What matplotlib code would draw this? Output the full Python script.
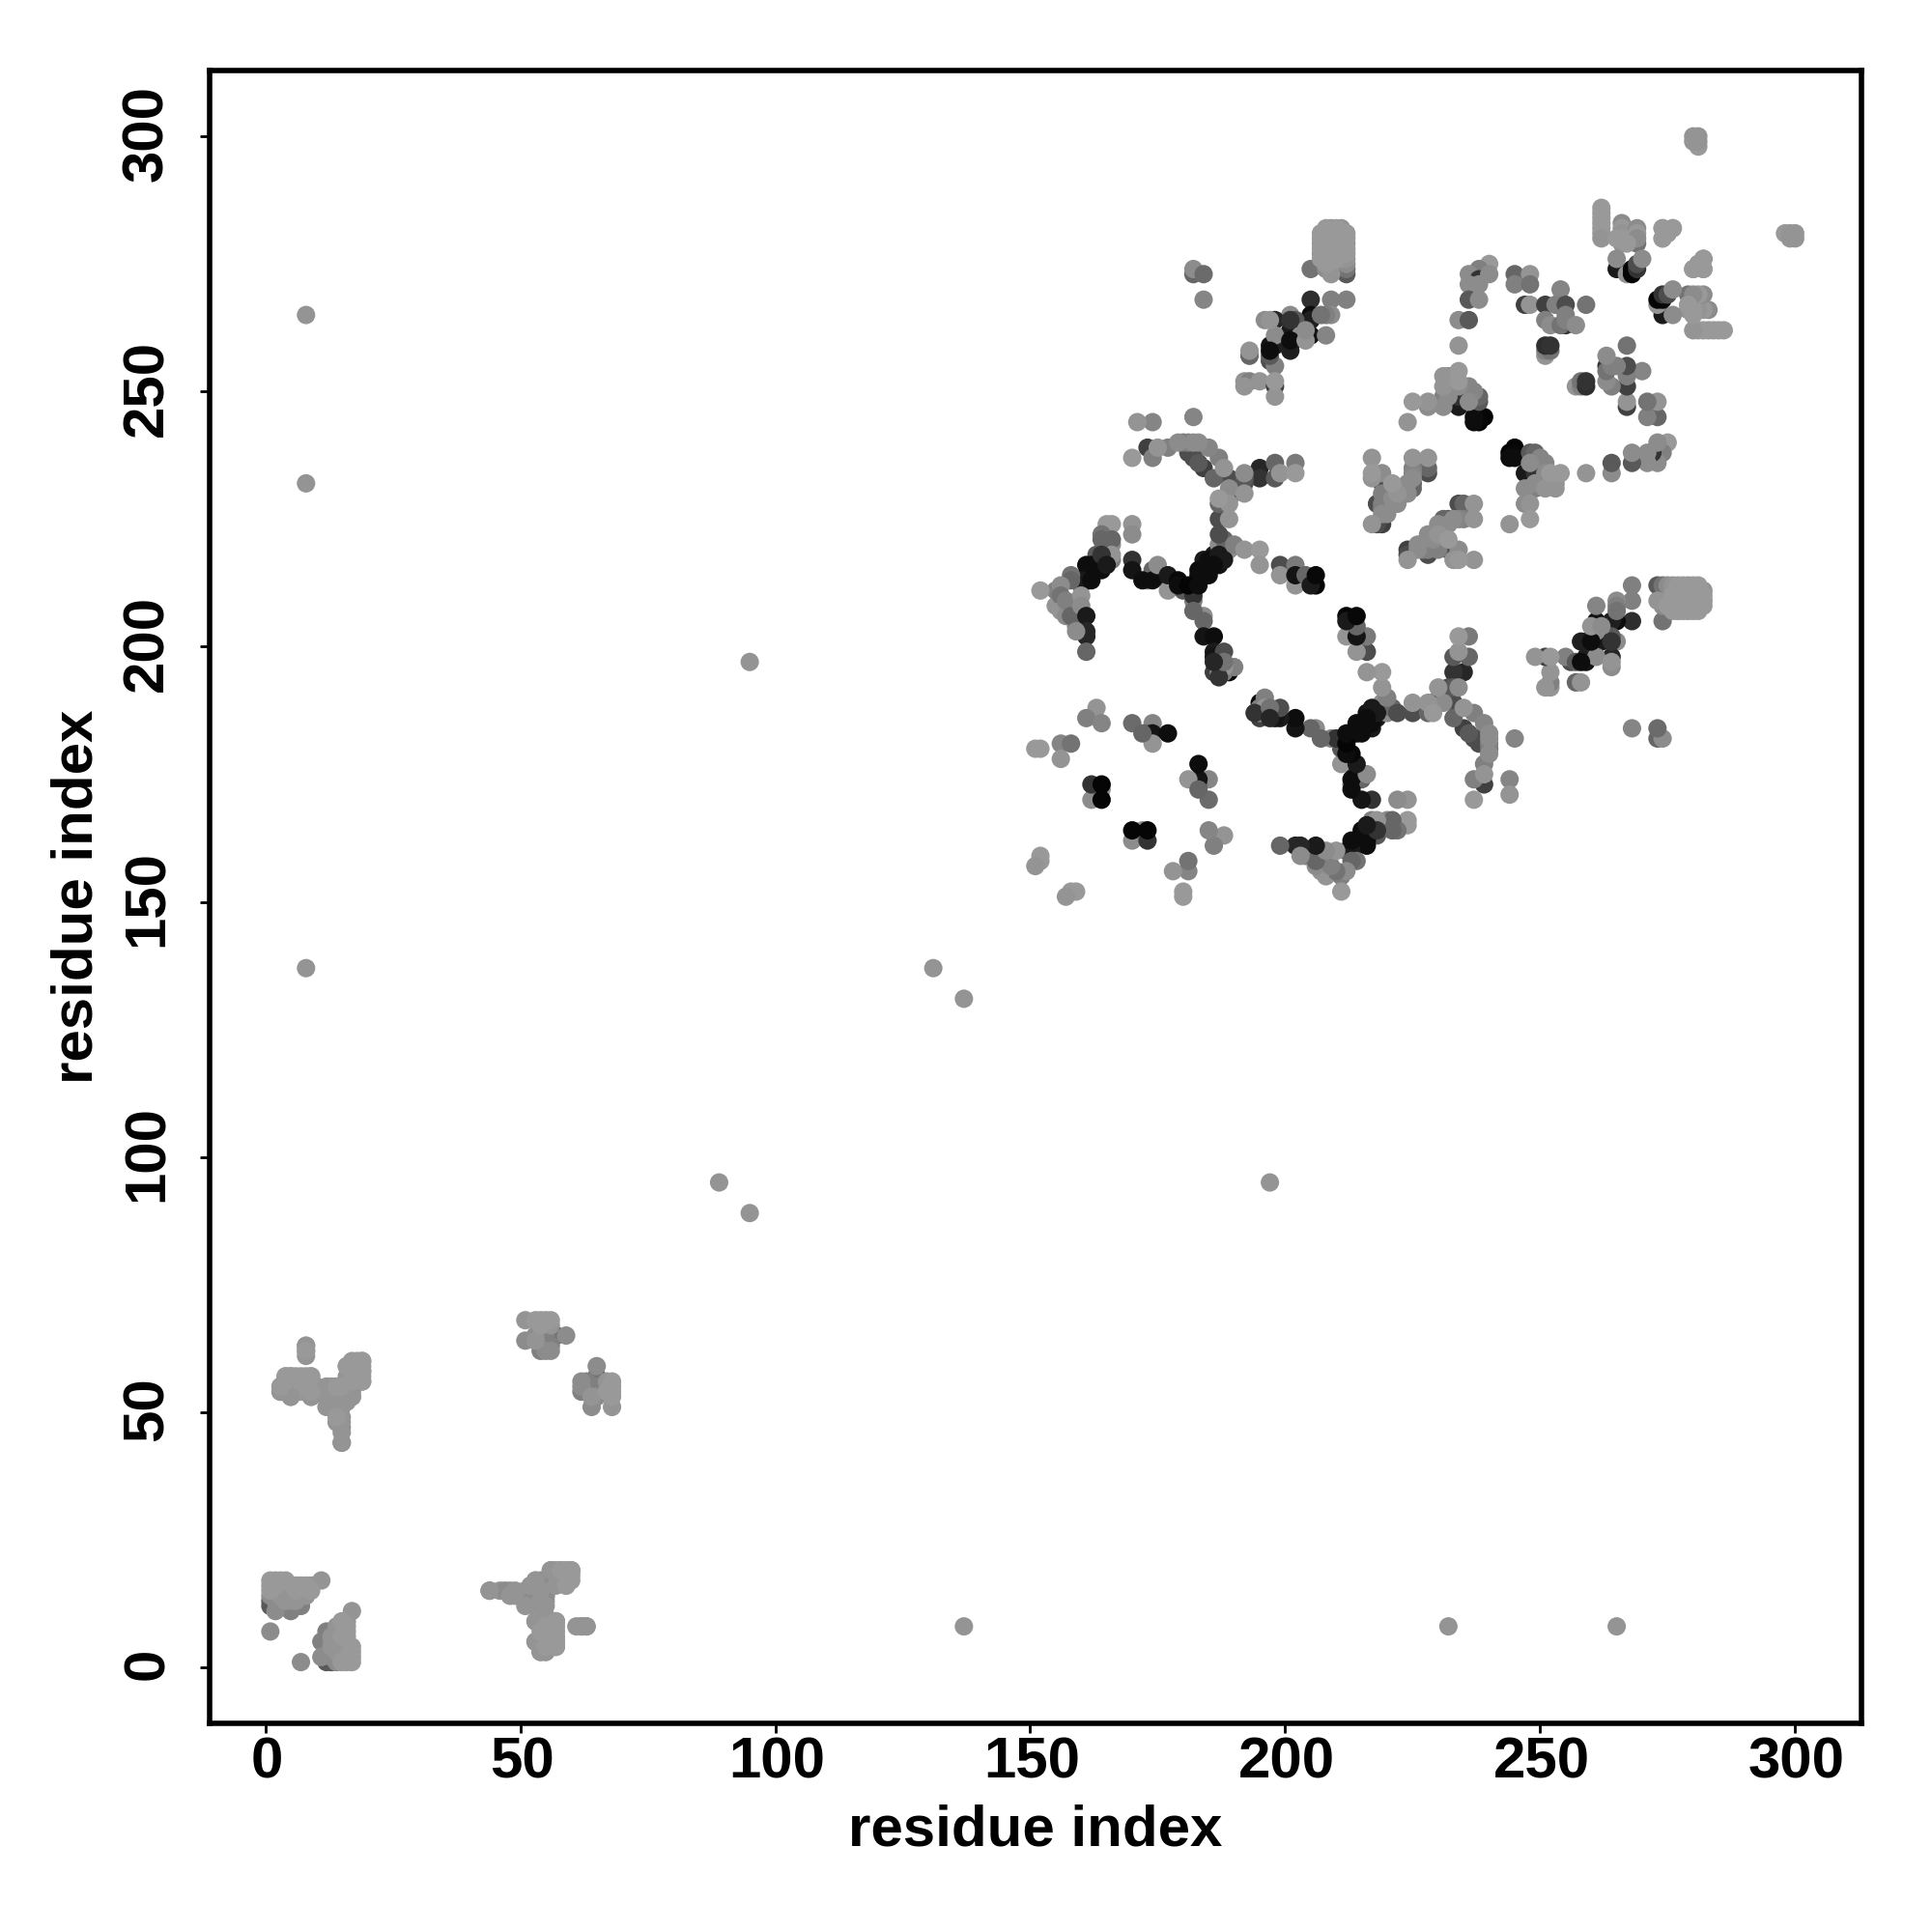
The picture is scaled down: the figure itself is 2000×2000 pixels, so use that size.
import numpy as np
import matplotlib
matplotlib.use("Agg")
import matplotlib.pyplot as plt
from matplotlib.transforms import ScaledTranslation

plt.rcParams['font.family'] = ['Liberation Sans', 'DejaVu Sans']
plt.rcParams['font.weight'] = 'bold'

# contacts as (residue i, residue j, gray level), map is symmetric so only i<j is listed
isolated = [(8,265,.58),(8,232,.58),(8,137,.58),(95,197,.58),(89,95,.58),(131,137,.58),
            (280,300,.58),(281,300,.58),(281,298,.6),(280,299,.58),(281,299,.58)]

near_start = [(1,17,.6),(2,17,.6),(3,17,.6),(4,17,.6),(1,16,.6),(2,16,.6),(3,16,.58),(1,15,.6),(2,15,.58),
              (1,14,.55),(2,14,.55),(3,14,.58),(1,13,.35),(2,13,.55),(3,13,.55),(4,13,.58),(2,11,.55),(1,12,.35),
              (5,11,.5),(5,12,.3),(6,12,.3),(7,13,.35),(7,12,.5),(5,13,.55),(6,13,.58),(6,14,.58),(7,14,.58),
              (8,14,.58),(6,15,.6),(6,16,.6),(7,16,.6),(8,16,.6),(9,16,.58),(8,15,.58),(9,15,.6),(11,17,.58),
              (1,7,.55)]

start_to_fifty = [(44,15,.58),(46,15,.58),(48,15,.58),(49,14,.6),(51,15,.58),(51,13,.58),(53,12,.58),(53,14,.58),
                  (53,15,.58),(53,17,.58),(54,16,.58),(55,15,.6),(55,14,.6),(55,13,.58),(56,17,.6),(56,19,.6),(57,19,.6),
                  (58,19,.6),(59,19,.6),(60,19,.6),(60,17,.6),(59,16,.6),(58,17,.6),(53,9,.58),(54,9,.6),(55,8,.6),
                  (57,9,.6),(57,7,.6),(53,5,.58),(54,4,.58),(54,3,.58),(55,3,.6),(56,4,.6),(57,5,.6),(57,4,.6),
                  (61,8,.58),(62,8,.6),(63,8,.58)]

start_to_sixty = [(8,63,.58),(8,62,.58),(3,55,.58),(3,54,.58),(4,57,.6),(5,57,.6),(6,57,.6),(4,55,.6),(5,53,.58),
                  (5,54,.55),(7,54,.6),(8,57,.6),(9,57,.6),(8,55,.6),(9,53,.58),(10,55,.58),(12,55,.58),(13,54,.58),
                  (12,51,.58),(13,52,.55),(14,53,.55),(14,55,.55),(15,54,.58),(16,52,.58),(17,53,.58),(14,48,.58),(15,47,.55),
                  (15,49,.58),(15,44,.58),(16,57,.58),(16,59,.6),(17,56,.55),(18,58,.58),(19,56,.58),(18,60,.6),(19,60,.6),
                  (19,58,.6),(17,54,.55)]

fifty_to_sixty = [(51,68,.58),(53,68,.6),(54,68,.6),(55,68,.6),(56,68,.6),(54,67,.6),(56,67,.58),(51,64,.55),(53,64,.58),
                  (54,64,.5),(55,64,.45),(56,64,.45),(54,65,.45),(55,65,.5),(56,65,.4),(57,65,.3),(59,65,.55),(54,62,.5),
                  (55,62,.55),(56,62,.55),(56,63,.5),(53,65,.55)]

block_207 = [(209,274,.3),(212,273,.35),(212,274,.45),(207,277,.58),(207,278,.6),(207,279,.58),(208,275,.6),(208,276,.58),(208,277,.6),(208,278,.6),
             (208,279,.58),(208,280,.6),(208,281,.6),(209,275,.58),(209,276,.6),(209,277,.6),(209,278,.58),(209,279,.6),(209,280,.6),(209,281,.58),
             (210,276,.6),(210,277,.6),(210,278,.6),(210,279,.58),(210,280,.6),(210,281,.6),(211,276,.58),(211,277,.6),
             (211,278,.6),(211,279,.6),(211,280,.58),(211,281,.6),(212,275,.55),(209,273,.58),(208,274,.55)]

band_182_268 = [(182,273,.4),(182,274,.55),(184,273,.42),(184,268,.52),(205,274,.5),(205,268,.18),(209,268,.5),(212,268,.5),
                (205,265,.07),(205,264,.07),(201,265,.55),(202,264,.35),(209,265,.58),(208,265,.5),(201,262,.1),(205,261,.1),
                (203,261,.55),(208,261,.55),(201,259,.1),(196,264,.55),(198,264,.2),(197,259,.08),(198,259,.12),(197,256,.3),
                (198,261,.58),(193,257,.4),(193,258,.58),(198,255,.55),(192,252,.58),(193,252,.5),(195,252,.58),(198,251,.2),
                (198,249,.58),(198,252,.6)]

curve_170_245 = [(171,244,.58),(174,244,.52),(182,245,.52),(170,237,.6),(174,237,.52),(173,239,.25),(175,239,.58),(177,239,.5),
                 (179,240,.55),(180,240,.45),(181,238,.3),(182,237,.3),(183,236,.35),(184,235,.25),(181,240,.5),(182,240,.55),(183,240,.55),
                 (185,239,.52),(186,233,.4),(187,237,.5),(188,235,.58),(189,233,.3),(192,234,.55),(192,233,.35),(195,233,.2),(195,235,.15),
                 (198,233,.35),(198,236,.4),(202,236,.48),(199,234,.58),(202,234,.6),(189,229,.3),(189,231,.55),(192,232,.3),
                 (192,230,.58),(187,229,.6),(189,228,.58),(187,228,.4),(187,225,.3),(189,225,.58),(187,222,.3)]

arm_160_216 = [(166,224,.6),(170,224,.58),(170,222,.55),(164,222,.45),(166,221,.4),(163,218,.35),(166,218,.58),(164,221,.4),
               (170,217,.2),(170,215,.08),(174,215,.4),(173,213,.45),(177,213,.18),(177,211,.58),(180,211,.35),(182,209,.5),
               (161,216,.05),(162,216,.05),(164,215,.05),(160,213,.1),(162,213,.05),(158,214,.45),(158,213,.4),(164,218,.2),
               (152,211,.6),(156,212,.55),(156,210,.45),(156,207,.58),(157,206,.55),(157,209,.5),(158,206,.4),(160,210,.58),(160,208,.55),
               (161,206,.1),(161,203,.15),(161,202,.15),(159,203,.55),(161,199,.4)]

arm_181_220 = [(181,212,.02),(183,212,.05),(183,215,.05),(185,214,.05),(185,217,.05),(187,218,.1),(188,217,.1),(186,216,.05),
               (190,220,.5),(192,219,.58),(195,219,.6),(195,216,.58),(199,216,.3),(199,214,.58),(202,216,.48),(202,212,.58),(202,214,.08),
               (204,214,.4),(206,212,.02),(205,212,.1),(206,214,.03),(184,206,.55),(184,205,.4),(184,202,.08),(186,202,.05),
               (186,199,.1),(186,198,.08),(188,199,.3),(186,195,.25),(187,195,.55),(189,195,.03),(190,196,.5),(188,195,.5),
               (182,207,.4)]

small_150_190 = [(163,188,.58),(161,186,.5),(164,185,.52),(170,185,.42),(174,185,.52),(173,183,.4),(174,183,.08),(177,183,.05),
                 (174,181,.58),(151,180,.6),(152,180,.6),(156,181,.52),(158,181,.45),(156,178,.58),(172,183,.4),
                 (164,172,.58),(162,170,.55),(162,173,.2),(164,170,.02),(164,173,.02),(152,159,.6),(152,158,.6),(151,157,.58)]

blob_155_166 = [(159,204,.5),(155,208,.58),(155,211,.5),(158,208,.5),(160,212,.4),(161,213,.1),(161,214,.05),(165,218,.4),(166,217,.5),
                (165,219,.5),(166,220,.55),(165,224,.6)]

arm_170_217 = [(165,216,.1),(172,213,.05),(174,213,.05),(175,216,.55),(177,214,.1),(179,213,.03),(182,210,.2),(179,212,.05),(184,215,.03),
               (183,214,.05),(186,218,.1),(184,217,.1),(187,216,.08),(189,219,.55),(187,220,.55),(188,221,.4)]

arm_186_209 = [(188,196,.58),(187,194,.2),(188,197,.45),(186,197,.15)]

x_225_245 = [(174,237,.5),(171,244,.58),(180,240,.45),(182,238,.2),(186,233,.4)]

blob_217_237 = [(217,237,.58),(217,234,.6),(219,234,.55),(219,232,.3),(218,228,.3),(219,230,.5),(219,227,.5),(219,226,.55),(221,232,.6),
                (222,230,.58),(221,229,.55),(224,232,.55),(225,234,.52),(225,232,.35),(225,237,.58),(228,237,.58),(228,234,.3),
                (219,224,.25),(217,224,.58),(218,224,.3),(220,226,.55),(219,228,.5),(222,228,.55),(224,230,.55),(225,231,.4),(225,233,.55),
                (219,233,.3),(217,233,.58),(225,235,.5),(228,235,.4)]

blob_224_254 = [(224,244,.58),(225,248,.6),(228,248,.58),(228,247,.55),(231,253,.58),(231,251,.58),(232,253,.55),(231,249,.5),(231,247,.55),
                (232,249,.55),(233,251,.5),(234,254,.6),(234,252,.6),(234,251,.55),(236,251,.52),(234,249,.2),(234,248,.1),(234,247,.1),(236,249,.15),
                (236,248,.55),(237,250,.52),(238,249,.4),(238,248,.35),(237,245,.05),(237,244,.05),(238,245,.03),(239,245,.02),(238,244,.02)]

top_240_275 = [(240,275,.6),(238,274,.5),(236,273,.55),(238,272,.2),(240,273,.55),(238,271,.55),(236,271,.55),(236,268,.35),(238,268,.55),
               (234,264,.55),(236,264,.35),(234,259,.58),(245,273,.4),(248,273,.58),(245,271,.5),(248,271,.45),(247,267,.25),(248,267,.58),
               (251,267,.25),(254,270,.52),(253,267,.5),(255,267,.3),(259,267,.45),(251,264,.5),(252,263,.55),(255,263,.2),(255,265,.5),(254,263,.45),
               (255,264,.5),(257,263,.55),(251,257,.58),(251,258,.5),(252,258,.45),(251,259,.18),(252,259,.2)]

top_262_286 = [(262,286,.6),(262,285,.6),(262,284,.6),(262,283,.6),(262,282,.6),(262,281,.6),(262,280,.58),(266,283,.55),(266,282,.6),(266,281,.58),
               (266,280,.6),(269,282,.55),(269,281,.6),(269,279,.45),(269,280,.55),(266,279,.58),(265,274,.1),(267,273,.58),(268,273,.02),
               (268,274,.02),(269,274,.2),(269,275,.3),(265,276,.55),(270,276,.55),(274,282,.6),(276,282,.6),(274,280,.6),(275,281,.6),
               (282,276,.6),(280,274,.6),(282,274,.6),(281,275,.6),(265,280,.6),(267,279,.6)]

cluster_198_212 = [(198,249,.58),(198,251,.25),(198,252,.6),(195,252,.58),(192,252,.58),(192,251,.58),(198,255,.5),(197,257,.35),(197,258,.05),
                   (198,261,.55),(198,264,.15),(193,257,.4),(193,258,.58),(201,258,.12),(201,260,.05),(204,260,.58),(205,261,.08),(204,262,.55),
                   (201,264,.2),(201,265,.55),(208,261,.52),(205,264,.12),(205,265,.05),(209,265,.55),(207,265,.45),(209,268,.5),(212,268,.5),(205,268,.18),
                   (197,264,.58),(205,274,.45),(212,275,.58)]

block_276 = [(207,276,.6),(207,280,.6),(212,276,.58),(212,277,.6),(212,278,.6),(212,279,.58),(212,280,.6),(212,281,.6),(209,282,.58),(208,282,.6),
             (207,281,.6),(210,282,.6),(211,282,.58)]

# clusters where dark contacts sit under the lighter ones
light_on_top = [near_start, start_to_fifty, start_to_sixty, fifty_to_sixty, curve_170_245, x_225_245, blob_217_237, blob_224_254, block_207, block_276]
# clusters left in reading order
as_read = [isolated, band_182_268, blob_155_166, arm_160_216, arm_170_217, arm_181_220, arm_186_209, small_150_190, top_240_275, cluster_198_212, top_262_286]

ticks = [0, 50, 100, 150, 200, 250, 300]

seen = {}
for c in as_read:
    for i, j, v in c:
        seen[(i, j)] = v
under = {}
for c in light_on_top:
    for i, j, v in c:
        under[(i, j)] = v
ordered = sorted(under.items(), key=lambda kv: kv[1])
rows = [(k[0], k[1], v) for k, v in seen.items() if k not in under] + [(k[0], k[1], v) for k, v in ordered]
pts = np.array(rows)
x = np.concatenate([pts[:, 0], pts[:, 1]])
y = np.concatenate([pts[:, 1], pts[:, 0]])
g = np.concatenate([pts[:, 2], pts[:, 2]])

W = 2000.0
fig = plt.figure(figsize=(10, 10), dpi=200)
ax = fig.add_axes([216.5 / W, 1 - 1784 / W, (1927 - 216.5) / W, (1784 - 72.5) / W])
ax.scatter(x, y, s=47, c=np.column_stack([g, g, g]), linewidths=0, zorder=3)

ax.set_xlim(-11, 313)
ax.set_ylim(-11, 313)
ax.set_xticks(ticks)
ax.set_yticks(ticks)
for s in ax.spines.values():
    s.set_linewidth(2)
ax.tick_params(axis='both', length=3.5, width=1, labelsize=21.6)
ax.tick_params(axis='x', pad=1.2)
ax.tick_params(axis='y', pad=9.4)
for t in ax.get_yticklabels():
    t.set_rotation(90)
    t.set_va('center')
    t.set_transform(t.get_transform() + ScaledTranslation(0, 3.5 / 200, fig.dpi_scale_trans))
for t in ax.get_xticklabels():
    t.set_transform(t.get_transform() + ScaledTranslation(1.5 / 200, 0, fig.dpi_scale_trans))
ax.set_xlabel('residue index', fontsize=21.6, fontweight='bold')
ax.set_ylabel('residue index', fontsize=21.6, fontweight='bold')
ax.xaxis.set_label_coords(0.5, (1784 - 1895) / (1784 - 72.5), transform=ax.transAxes)
ax.xaxis.label.set_va('center')
ax.yaxis.set_label_coords((80 - 216.5) / (1927 - 216.5), 0.5, transform=ax.transAxes)
ax.yaxis.label.set_va('center')

plt.savefig("out.png", dpi=200)
